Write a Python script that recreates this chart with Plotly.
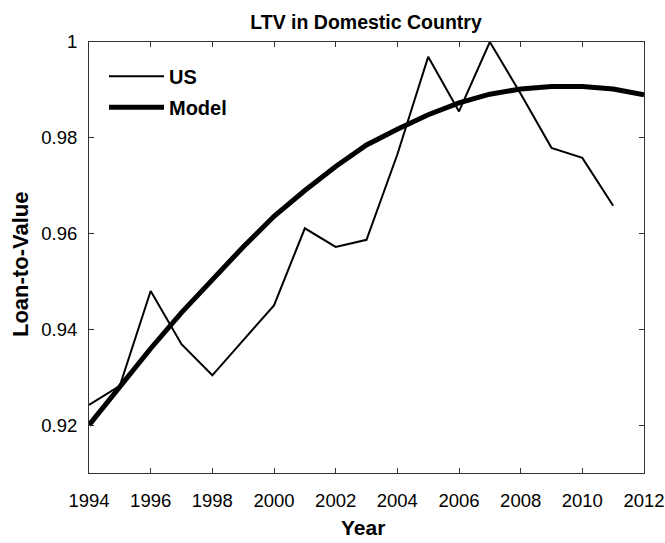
import plotly.graph_objects as go

years = list(range(1994, 2013))
us_years = list(range(1994, 2012))
us_ltv = [0.9242, 0.9282, 0.9480, 0.9369, 0.9304, 0.9377, 0.9450, 0.9611, 0.9572,
          0.9587, 0.9765, 0.9969, 0.9855, 1.0000, 0.9892, 0.9779, 0.9758, 0.9658]
model_ltv = [0.9200, 0.9280, 0.9360, 0.9435, 0.9505, 0.9572, 0.9636, 0.9690, 0.9740,
             0.9785, 0.9818, 0.9848, 0.9873, 0.9891, 0.9902, 0.9907, 0.9907, 0.9902, 0.9890]
x_ticks = list(range(1994, 2013, 2))
y_ticks = [0.92, 0.94, 0.96, 0.98, 1.0]
y_tick_labels = ["0.92", "0.94", "0.96", "0.98", "1"]

FONT = "Liberation Sans"

fig = go.Figure()
fig.add_trace(go.Scatter(x=us_years, y=us_ltv, mode="lines", name="<b>US</b>",
                         legendgroup="us",
                         line=dict(color="black", width=2)))
fig.add_trace(go.Scatter(x=years, y=model_ltv, mode="lines", name="<b>Model</b>",
                         legendgroup="model",
                         line=dict(color="black", width=5)))

axis_common = dict(showgrid=False, zeroline=False, showline=True, linecolor="#333333",
                   linewidth=1, mirror="ticks", ticks="inside", ticklen=5,
                   tickcolor="#333333", automargin=False,
                   tickfont=dict(family=FONT, size=18.5, color="black"))

fig.update_layout(
    width=665, height=543,
    margin=dict(l=89, r=21, t=42, b=70),
    paper_bgcolor="white", plot_bgcolor="white",
    title=dict(text="<b>LTV in Domestic Country</b>", x=0.5504, xanchor="center",
               y=0.9595, yanchor="middle",
               font=dict(family=FONT, size=19.5, color="black")),
    xaxis=dict(range=[1994, 2012], tickvals=x_ticks, ticklabelstandoff=11, **axis_common),
    yaxis=dict(range=[0.91, 1.0], tickvals=y_ticks, ticktext=y_tick_labels,
               ticklabelstandoff=7, **axis_common),
    legend=dict(x=0.027, y=0.966, xanchor="left", yanchor="top", bgcolor="rgba(0,0,0,0)",
                font=dict(family=FONT, size=20, color="black"),
                itemwidth=55, tracegroupgap=2, traceorder="grouped"),
    showlegend=True,
    annotations=[
        dict(text="<b>Year</b>", xref="paper", yref="paper", x=0.4937, y=-0.1276,
             xanchor="center", yanchor="middle", showarrow=False,
             font=dict(family=FONT, size=21, color="black")),
        dict(text="<b>Loan-to-Value</b>", xref="paper", yref="paper", x=-0.1225, y=0.4826,
             xanchor="center", yanchor="middle", showarrow=False, textangle=-90,
             font=dict(family=FONT, size=22, color="black")),
    ],
)

# remove the page's default body margin so the figure fills the window exactly
fig.write_html("out.html", config={"displayModeBar": False},
               post_script="document.body.style.margin='0';document.body.style.overflow='hidden';")
